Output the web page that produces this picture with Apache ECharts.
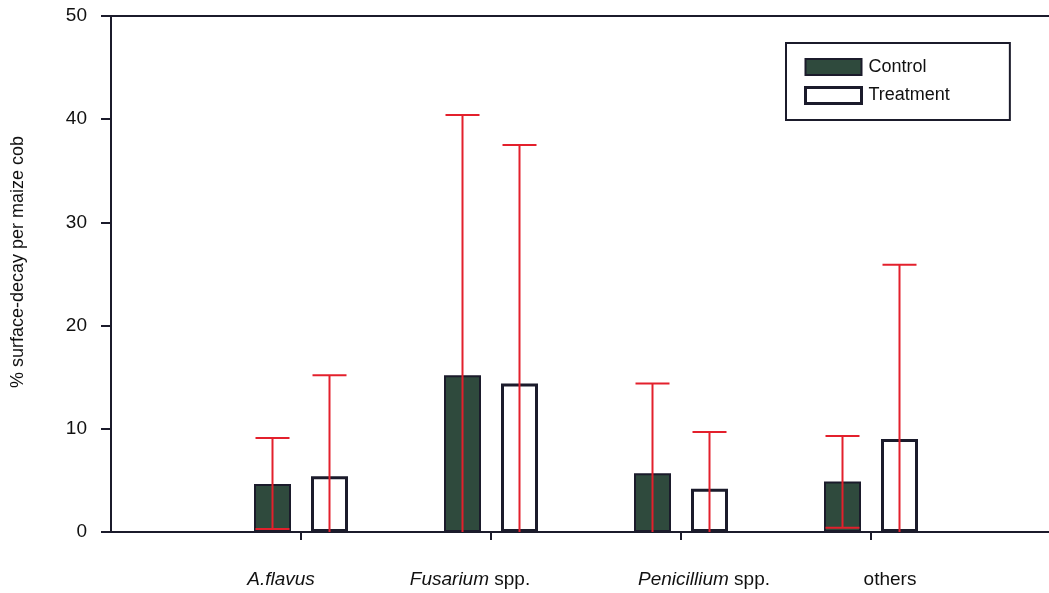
<!DOCTYPE html>
<html>
<head>
<meta charset="utf-8">
<script src="https://cdn.jsdelivr.net/npm/echarts@6/dist/echarts.min.js"></script>
<style>html,body{margin:0;padding:0;background:#fff}#c{width:1049px;height:593px}</style>
</head>
<body>
<div id="c"></div>
<script>
// ---- data ----
const categories = ['A.flavus', 'Fusarium spp.', 'Penicillium spp.', 'others'];
const controlMean = [4.65, 15.2, 5.7, 4.9];
const controlLow  = [0.3, 0, 0, 0.4];
const controlHigh = [9.1, 40.4, 14.4, 9.3];
const treatMean = [5.4, 14.4, 4.2, 9.0];
const treatLow  = [0, 0, 0, 0];
const treatHigh = [15.2, 37.5, 9.7, 25.9];
const yTicks = [0, 10, 20, 30, 40, 50];
const catPos = [1, 2, 3, 4];        // category slot positions on the x scale
const xMax = 938 / 190;             // axis ends a little short of a 5th slot

// ---- layout/style ----
const BAR_W = 37, BAR_GAP = 20;
const OFF = (BAR_W + BAR_GAP) / 2;
const labelShift = [-20, -21, 23, 19];   // px offset of label centre from tick
const labelParts = [['A.flavus', ''], ['Fusarium', ' spp.'], ['Penicillium', ' spp.'], ['', 'others']];
const AX = '#1b1b2b';
const RED = '#e3202c';
const FS = 19;

function errData(low, high, sign) {
  return catPos.map((p, i) => [p, low[i], high[i], sign]);
}

function renderErr(params, api) {
  const pos = api.value(0);
  const sign = api.value(3);
  const x = api.coord([pos, 0])[0] + sign * OFF;
  const yl = api.coord([pos, api.value(1)])[1];
  const yh = api.coord([pos, api.value(2)])[1];
  const half = 17;
  const st = {stroke: RED, lineWidth: 2};
  const ch = [
    {type:'line', shape:{x1:x, y1:yl, x2:x, y2:yh}, style:st},
    {type:'line', shape:{x1:x-half, y1:yh, x2:x+half, y2:yh}, style:st}
  ];
  if (api.value(1) > 0) ch.push({type:'line', shape:{x1:x-half, y1:yl, x2:x+half, y2:yl}, style:st});
  return {type:'group', children: ch};
}

const font = 'Liberation Sans, Arial, Helvetica, sans-serif';
const rich = {
  i: {fontStyle: 'italic', fontSize: FS, color: '#111', fontFamily: font},
  n: {fontSize: FS, color: '#111', fontFamily: font}
};
labelShift.forEach((s, k) => { rich['sp' + k] = {width: Math.abs(s) * 2, fontSize: FS}; });

function fmtX(v) {
  const k = catPos.indexOf(Math.round(v));
  if (k < 0) return '';
  const p = labelParts[k];
  let s = '';
  if (p[0]) s += '{i|' + p[0] + '}';
  if (p[1]) s += '{n|' + p[1] + '}';
  const sp = '{sp' + k + '|}';
  return labelShift[k] < 0 ? s + sp : sp + s;
}

const chart = echarts.init(document.getElementById('c'), null, {renderer: 'canvas'});
chart.setOption({
  animation: false,
  backgroundColor: '#fff',
  textStyle: {fontFamily: font},
  grid: {left: 111, top: 16, bottom: 61, right: 0, containLabel: false},
  legend: {
    orient: 'vertical',
    left: 786, top: 43,
    padding: [15, 60, 15, 18],
    itemWidth: 56, itemHeight: 16, itemGap: 10,
    borderColor: AX, borderWidth: 2,
    backgroundColor: '#fff',
    textStyle: {fontFamily: font, fontSize: 18, color: '#111', padding: [0,0,0,2]},
    data: [
      {name: 'Control', icon: 'rect', itemStyle: {color: '#2f4a3d', borderColor: AX, borderWidth: 2}},
      {name: 'Treatment', icon: 'rect', itemStyle: {color: '#fff', borderColor: AX, borderWidth: 3}}
    ]
  },
  xAxis: [{
    type: 'value',
    min: 0, max: xMax,
    axisLine: {show: true, onZero: false, lineStyle: {color: AX, width: 2}},
    axisTick: {show: true, inside: false, length: 8, lineStyle: {color: AX, width: 2}, customValues: catPos},
    axisLabel: {customValues: catPos, margin: 38, fontSize: FS, color: '#111', fontFamily: font, formatter: fmtX, rich: rich},
    splitLine: {show: false}
  }, {
    type: 'value',
    position: 'top',
    min: 0, max: xMax,
    axisLine: {show: true, onZero: false, lineStyle: {color: AX, width: 2}},
    axisTick: {show: false},
    axisLabel: {show: false},
    splitLine: {show: false}
  }],
  yAxis: {
    type: 'value',
    min: yTicks[0], max: yTicks[yTicks.length-1], interval: 10,
    name: '% surface-decay per maize cob',
    nameLocation: 'middle',
    nameGap: 84,
    nameRotate: 90,
    nameTextStyle: {fontSize: 18, color: '#111', fontFamily: font, padding: [0, 0, 0, 24]},
    axisLine: {show: true, lineStyle: {color: AX, width: 2}},
    axisTick: {show: true, inside: false, length: 10, lineStyle: {color: AX, width: 2}},
    axisLabel: {margin: 24, fontSize: 19, color: '#111', fontFamily: font},
    splitLine: {show: false}
  },
  series: [
    {
      name: 'Control', type: 'bar',
      data: catPos.map((p, i) => [p, controlMean[i]]),
      barWidth: BAR_W, barGap: (BAR_GAP / BAR_W * 100) + '%',
      itemStyle: {color: '#2f4a3d', borderColor: AX, borderWidth: 2}
    },
    {
      name: 'Treatment', type: 'bar',
      data: catPos.map((p, i) => [p, treatMean[i]]),
      barWidth: BAR_W, barGap: (BAR_GAP / BAR_W * 100) + '%',
      itemStyle: {color: '#fff', borderColor: AX, borderWidth: 3}
    },
    {
      type: 'custom', name: 'errC', renderItem: renderErr,
      data: errData(controlLow, controlHigh, -1),
      encode: {x: 0, y: [1, 2]}, z: 10, silent: true
    },
    {
      type: 'custom', name: 'errT', renderItem: renderErr,
      data: errData(treatLow, treatHigh, 1),
      encode: {x: 0, y: [1, 2]}, z: 10, silent: true
    }
  ]
});
</script>
</body>
</html>
